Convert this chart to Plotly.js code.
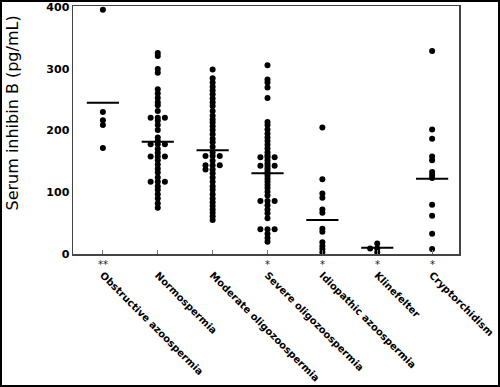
<!DOCTYPE html>
<html>
<head>
<meta charset="utf-8">
<script src="https://cdn.plot.ly/plotly-3.0.1.min.js"></script>
<style>html,body{margin:0;padding:0;background:#fff;}#chart{width:500px;height:387px;}</style>
</head>
<body>
<div id="chart"></div>
<script>
// ---- data ----
const categories = ["Obstructive azoospermia", "Normospermia", "Moderate oligozoospermia",
  "Severe oligozoospermia", "Idiopathic azoospermia", "Klinefelter", "Cryptorchidism"];
const significance = ["**", "", "", "*", "*", "*", "*"];

const obstructive = [396, 230, 217, 209, 172];
const normospermia = [326, 321, 300, 294, 267, 260, 253, 246, 241, 232, 221, 221, 221, 216, 209, 201,
  189, 183, 178, 178, 178, 170, 164, 158, 158, 158, 152, 145, 138, 132, 124, 117, 117, 117, 110, 104,
  97, 90, 82, 75];
const moderate = [299, 285, 278, 271, 265, 259, 252, 246, 240, 232, 224, 218, 213, 207, 201, 194, 187,
  181, 174, 165, 159, 159, 159, 151, 144, 144, 144, 137, 137, 131, 124, 117, 110, 104, 97, 90, 84, 78,
  72, 67, 61, 55];
const severe = [306, 283, 278, 270, 253, 214, 209, 202, 195, 189, 183, 177, 171, 165, 160, 157, 157,
  157, 152, 147, 143, 143, 143, 139, 135, 131, 127, 122, 117, 112, 107, 101, 95, 86, 86, 86, 79, 72,
  66, 58, 40, 40, 40, 33, 26, 20];
const idiopathic = [205, 121, 98, 91, 72, 67, 41, 36, 19, 13, 8, 3];
const klinefelter = [17, 9, 9, 3];
const cryptorchidism = [329, 202, 187, 158, 152, 133, 128, 123, 80, 62, 33, 8];
const means = [245, 182, 168, 131, 55, 10, 122];

const groups = [obstructive, normospermia, moderate, severe, idiopathic, klinefelter, cryptorchidism];

// ---- layout geometry ----
const W = 500, H = 387;
const M = {l: 73, r: 41, t: 6, b: 133};
const PW = W - M.l - M.r, PH = H - M.t - M.b;
const sideStep = 0.13; // horizontal spread for tied values (x units)

// spread tied values side by side (dot-plot style)
const xs = [], ys = [];
groups.forEach((vals, gi) => {
  const seen = {};
  vals.forEach(v => {
    const k = seen[v] || 0;
    seen[v] = k + 1;
    const off = k === 0 ? 0 : (k % 2 === 1 ? -1 : 1) * Math.ceil(k / 2);
    xs.push(gi + 1 + off * sideStep);
    ys.push(v);
  });
});

const idx = categories.map((_, i) => i + 1);

const dots = {
  type: "scatter", mode: "markers", x: xs, y: ys,
  marker: {color: "#000", size: 6, line: {width: 0}},
  hoverinfo: "y", showlegend: false
};
const meanTrace = {
  type: "scatter", mode: "markers", x: idx, y: means,
  marker: {symbol: "line-ew", size: 23, color: "#000", line: {color: "#000", width: 2}},
  hoverinfo: "y", showlegend: false
};

const annotations = significance.map((s, i) => ({
  text: s, x: i + 1, xref: "x", y: 0, yref: "paper", yshift: -10,
  showarrow: false, xanchor: "center", yanchor: "middle",
  font: {family: "DejaVu Sans", size: 10, color: "#222"}
})).filter(a => a.text);

annotations.push({
  text: "Serum inhibin B (pg/mL)", textangle: -90,
  x: (12.5 - M.l) / PW, xref: "paper", y: (PH + M.t - 113) / PH + 0, yref: "paper",
  showarrow: false, xanchor: "center", yanchor: "middle",
  font: {family: "DejaVu Sans", size: 16, color: "#000"}
});

const layout = {
  width: W, height: H,
  margin: M,
  paper_bgcolor: "#fff", plot_bgcolor: "#fff",
  showlegend: false,
  xaxis: {
    range: [0.455, 7.49], tickmode: "array", tickvals: idx, ticktext: categories,
    tickangle: 45, ticks: "inside", ticklen: 4, tickcolor: "#777", tickwidth: 1,
    ticklabelstandoff: 10,
    showline: true, mirror: true, linecolor: "#444", linewidth: 1.5,
    showgrid: false, zeroline: false,
    tickfont: {family: "DejaVu Sans", size: 10, color: "#000", weight: "bold"}
  },
  yaxis: {
    range: [0, 402], tickvals: [0, 100, 200, 300, 400], ticks: "",
    showline: true, mirror: true, linecolor: "#444", linewidth: 1.5,
    showgrid: false, zeroline: false,
    tickfont: {family: "DejaVu Sans", size: 11, color: "#000", weight: "bold"}
  },
  annotations: annotations,
  shapes: [{
    type: "rect", xref: "paper", yref: "paper",
    x0: (1 - M.l) / PW, x1: (W - 1 - M.l) / PW,
    y0: (M.t + PH - (H - 1)) / PH, y1: (M.t + PH - 1) / PH,
    line: {color: "#000", width: 2}, fillcolor: "rgba(0,0,0,0)"
  }]
};

Plotly.newPlot("chart", [dots, meanTrace], layout, {displayModeBar: false, staticPlot: true});
</script>
</body>
</html>
